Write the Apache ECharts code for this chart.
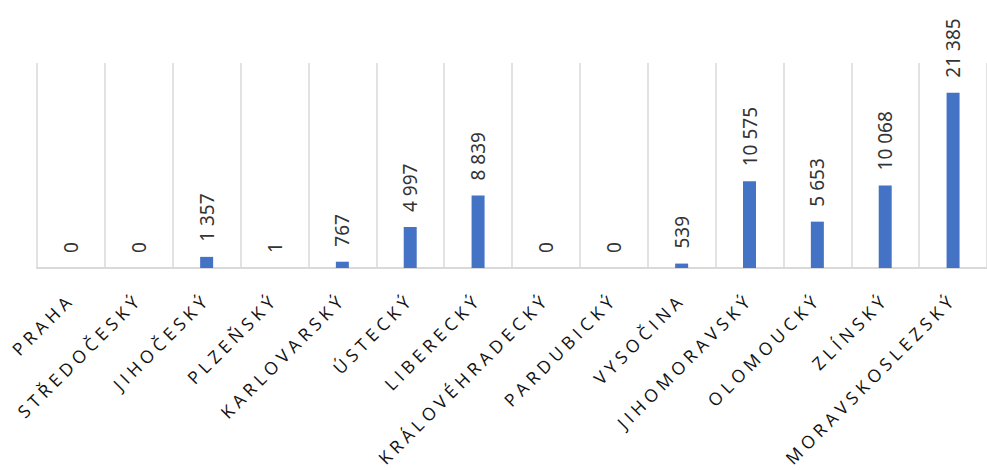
<!DOCTYPE html>
<html>
<head>
<meta charset="utf-8">
<script src="https://cdn.jsdelivr.net/npm/echarts@6/dist/echarts.min.js"></script>
<style>
  html, body { margin: 0; padding: 0; background: #ffffff; }
  #chart { width: 987px; height: 470px; }
  #chart text[style*="Open Sans"] { letter-spacing: 4.6px; }
</style>
</head>
<body>
<div id="chart"></div>
<script>
const categories = ['PRAHA', 'STŘEDOČESKÝ', 'JIHOČESKÝ', 'PLZEŇSKÝ', 'KARLOVARSKÝ', 'ÚSTECKÝ', 'LIBERECKÝ', 'KRÁLOVÉHRADECKÝ', 'PARDUBICKÝ', 'VYSOČINA', 'JIHOMORAVSKÝ', 'OLOMOUCKÝ', 'ZLÍNSKÝ', 'MORAVSKOSLEZSKÝ'];
const values = [0, 0, 1357, 1, 767, 4997, 8839, 0, 0, 539, 10575, 5653, 10068, 21385];
const valueMax = 25000;

function fmt(v) {
  return String(v).replace(/\B(?=(\d{3})+(?!\d))/g, ' ');
}

const chart = echarts.init(document.getElementById('chart'), null, { renderer: 'svg' });
chart.setOption({
  animation: false,
  grid: { left: 37, top: 63, width: 958.5, height: 205 },
  xAxis: {
    type: 'category',
    data: categories,
    boundaryGap: true,
    axisLine: { show: true, lineStyle: { color: '#d9d9d9', width: 2 } },
    axisTick: { show: false },
    splitLine: { show: true, interval: 0, lineStyle: { color: '#d9d9d9', width: 1.5 } },
    axisLabel: {
      interval: 0,
      rotate: 45,
      margin: 28,
      fontFamily: 'Open Sans',
      fontSize: 17.5,
      color: '#111111'
    }
  },
  yAxis: {
    type: 'value',
    min: 0,
    max: valueMax,
    show: false,
    splitLine: { show: false }
  },
  series: [{
    type: 'bar',
    data: values,
    barWidth: 13,
    itemStyle: { color: '#4472c4' },
    label: {
      show: true,
      position: 'top',
      rotate: 90,
      align: 'left',
      verticalAlign: 'middle',
      distance: 15,
      fontFamily: 'Noto Sans',
      fontSize: 19,
      color: '#333333',
      formatter: p => fmt(p.value)
    }
  }]
});
</script>
</body>
</html>
